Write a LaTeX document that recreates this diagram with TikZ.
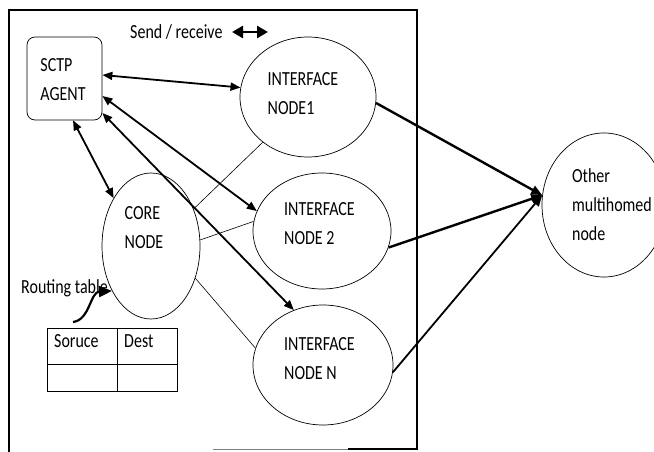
\documentclass[tikz,border=0pt]{standalone}
\usepackage{fontspec}
\setmainfont{Carlito}[FakeStretch=0.8]
\usetikzlibrary{arrows.meta,shapes.geometric}
\begin{document}
\begin{tikzpicture}[x=1pt,y=-1pt,
  ell/.style={draw, ellipse, line width=0.7pt, inner sep=0pt},
  lbl/.style={align=left, font=\fontsize{20}{29}\selectfont, inner sep=0pt},
  small/.style={font=\fontsize{20}{24}\selectfont, inner sep=0pt},
  dbl/.style={line width=1.8pt, {Triangle[length=10pt,width=8pt]}-{Triangle[length=10pt,width=8pt]}},
  fwd/.style={line width=2.4pt, -{Triangle[length=11pt,width=9pt]}},
  thinln/.style={line width=0.6pt}]
\useasboundingbox (0,0) rectangle (654,452);
\fill[white] (0,0) rectangle (654,452);
% frame
\draw[line width=1.1pt] (9,452) -- (9,10) -- (417,10) -- (417,449) -- (348,449);
\draw[line width=1pt, gray] (348,449) -- (213,449);
% send/receive
\node[small, anchor=west] (srt) at (130,32) {Send / receive};
\coordinate (sr1) at (232,32);
\coordinate (sr2) at (268,32);
\draw[line width=2.6pt, {Triangle[length=11pt,width=12pt]}-{Triangle[length=11pt,width=12pt]}] (sr1) -- (sr2);
% nodes
\node[draw, rounded corners=8pt, minimum width=75pt, minimum height=83pt, line width=0.7pt, inner sep=0pt] (sctp) at (64.5,78.5) {};
\node[lbl] (sctpt) at (63,80) {SCTP\\AGENT};
\node[ell, minimum width=136pt, minimum height=120pt] (if1) at (308,97) {};
\node[lbl] (if1t) at (303,94) {INTERFACE\\NODE1};
\node[ell, minimum width=138pt, minimum height=116pt] (if2) at (322,231) {};
\node[lbl] (if2t) at (319.5,223.5) {INTERFACE\\NODE 2};
\node[ell, minimum width=140pt, minimum height=120pt] (ifn) at (323,365) {};
\node[lbl] (ifnt) at (319.5,359) {INTERFACE\\NODE N};
\node[ell, minimum width=98pt, minimum height=146pt] (core) at (151,246) {};
\node[lbl] (coret) at (144,227.5) {CORE\\NODE};
\node[ell, minimum width=124pt, minimum height=144pt] (oth) at (604,205) {};
\node[lbl] (otht) at (612,205) {Other\\multihomed\\node};
% SCTP arrows
\draw[dbl] ([yshift=3.5pt]sctp.east) -- (if1.172);
\draw[dbl] ([xshift=8.5pt]sctp.south) -- (core.128);
\draw[dbl] ([yshift=-17.5pt]sctp.east) -- (if2.163);
\draw[dbl] ([yshift=-34.5pt]sctp.east) -- (ifn.118);
% thin links core-interfaces
\draw[thinln] (if1.225) -- (core.41);
\draw[thinln] (if2.172) -- (core.7);
\draw[thinln] (ifn.166) -- (core.324);
% to other node
\draw[fwd] (if1.355) -- (oth.171);
\draw[fwd] (if2.346) -- (oth.171);
\draw[line width=1.8pt, -{Triangle[length=11pt,width=9pt]}] (ifn.354) -- (oth.171);
% routing table
\node[small, anchor=west] (rtt) at (21,288) {Routing table};
\coordinate (rtail) at (73,322);
\draw[line width=2.2pt, -{Triangle[length=13pt,width=11pt]}] (rtail) .. controls (90,320) and (90,292) .. (core.229);
\draw[line width=0.9pt] (47,328) rectangle (177,391);
\draw[line width=0.9pt] (117,328) -- (117,391);
\draw[line width=0.9pt] (47,364) -- (177,364);
\node[small, anchor=west] (src) at (54,341) {Soruce};
\node[small, anchor=west] (dst) at (124,341) {Dest};
\end{tikzpicture}
\end{document}
